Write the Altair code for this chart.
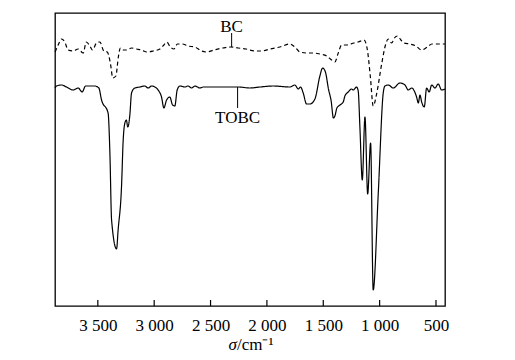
import altair as alt
import pandas as pd

# TOBC spectrum (solid): wavenumber (cm^-1) and transmittance (a.u.)
tobc_wn = [3879, 3867, 3822, 3778, 3719, 3675, 3639, 3609, 3527, 3491, 3467, 3409, 3393, 3378,
           3334, 3320, 3290, 3275, 3260, 3247, 3234, 3216, 3201, 3172, 3127, 3083, 3054, 3023,
           2994, 2965, 2935, 2914, 2890, 2861, 2837, 2817, 2796, 2772, 2728, 2699, 2668, 2639,
           2595, 2565, 2477, 2358, 2255, 2151, 2062, 1944, 1796, 1752, 1722, 1701, 1678, 1648,
           1618, 1574, 1530, 1506, 1481, 1454, 1430, 1410, 1397, 1379, 1352, 1323, 1308, 1279,
           1248, 1234, 1204, 1190, 1175, 1154, 1130, 1106, 1080, 1057, 1012, 968, 953, 924, 879,
           820, 775, 746, 716, 672, 657, 642, 627, 604, 583, 560, 538, 509, 480, 450, 420]
tobc_t = [218, 220, 221, 219, 216, 218, 214, 220, 220, 218, 206, 193, 153, 86,
          57, 76, 119, 166, 183, 186, 179, 191, 213, 218, 219, 220, 218, 220,
          219, 216, 209, 198, 206, 209, 201, 200, 216, 220, 219, 220, 218, 220,
          218, 219, 219, 219, 219, 218, 219, 220, 219, 221, 217, 219, 213, 202,
          202, 207, 230, 238, 234, 217, 205, 188, 190, 198, 201, 204, 210, 214,
          217, 216, 219, 215, 179, 126, 189, 112, 163, 16, 113, 213, 220, 221, 218,
          223, 221, 216, 218, 209, 203, 211, 204, 199, 218, 214, 221, 218, 222, 216, 217]

# BC spectrum (dashed)
bc_wn = [3879, 3852, 3822, 3793, 3764, 3719, 3675, 3630, 3602, 3571, 3547, 3512, 3482, 3447,
         3416, 3389, 3367, 3340, 3318, 3300, 3275, 3245, 3201, 3157, 3112, 3065, 3009, 2950,
         2914, 2888, 2857, 2825, 2794, 2750, 2701, 2639, 2580, 2535, 2470, 2391, 2320, 2255,
         2186, 2107, 2044, 1973, 1885, 1796, 1752, 1707, 1648, 1589, 1530, 1470, 1426, 1397,
         1367, 1337, 1293, 1228, 1190, 1139, 1110, 1082, 1057, 1027, 982, 948, 924, 893, 869,
         842, 811, 784, 731, 678, 627, 576, 536, 465, 420]
bc_t = [254, 261, 267, 264, 256, 255, 257, 253, 264, 260, 256, 263, 264, 255,
        254, 243, 228, 230, 249, 258, 256, 256, 258, 257, 256, 254, 255, 257,
        261, 264, 259, 257, 262, 262, 260, 259, 255, 254, 256, 258, 259, 258,
        257, 255, 255, 257, 259, 262, 259, 254, 253, 253, 252, 250, 246, 244,
        253, 261, 261, 263, 264, 266, 257, 229, 200, 212, 242, 261, 267, 263, 268,
        270, 266, 263, 262, 260, 256, 259, 262, 262, 262]

# Axis tick values
tick_values = [3500, 3000, 2500, 2000, 1500, 1000, 500]

# Curve labels with leader lines
label_text = ["BC", "TOBC"]
label_wn = [2313, 2260]
label_t = [274, 183]
leader_t1 = [273, 219]
leader_t2 = [259, 198]

FONT = "Liberation Serif"
W, H = 390, 293

df = pd.concat([
    pd.DataFrame({"wn": tobc_wn, "T": tobc_t, "sample": "TOBC"}),
    pd.DataFrame({"wn": bc_wn, "T": bc_t, "sample": "BC"}),
])
lab = pd.DataFrame({"wn": label_wn, "T": label_t, "label": label_text,
                    "t1": leader_t1, "t2": leader_t2})
ticks = pd.DataFrame({"wn": tick_values})

xs = alt.Scale(domain=[420, 3880], reverse=True, nice=False, zero=False)
ys = alt.Scale(domain=[0, 293], nice=False, zero=False)

xaxis = alt.Axis(values=tick_values, ticks=False, domain=False, grid=False,
                 labelExpr="replace(format(datum.value, ','), ',', ' ')",
                 labelFont=FONT, labelFontSize=17, labelColor="black", labelPadding=11,
                 title=None)

lines = alt.Chart(df).mark_line(color="black", strokeWidth=1.2, interpolate="monotone").encode(
    x=alt.X("wn:Q", scale=xs, axis=xaxis),
    y=alt.Y("T:Q", scale=ys, axis=None),
    strokeDash=alt.StrokeDash("sample:N",
                              scale=alt.Scale(domain=["TOBC", "BC"], range=[[1, 0], [4, 3]]),
                              legend=None),
    detail="sample:N",
)

tick_rules = alt.Chart(ticks).mark_rule(color="black", strokeWidth=1.2).encode(
    x=alt.X("wn:Q", scale=xs),
    y=alt.value(H),
    y2=alt.value(H - 6),
)

leaders = alt.Chart(lab).mark_rule(color="black", strokeWidth=1).encode(
    x=alt.X("wn:Q", scale=xs),
    y=alt.Y("t1:Q", scale=ys),
    y2="t2:Q",
)

texts = alt.Chart(lab).mark_text(font=FONT, fontSize=17, color="black",
                                 baseline="alphabetic", align="center").encode(
    x=alt.X("wn:Q", scale=xs),
    y=alt.Y("T:Q", scale=ys),
    text="label:N",
)

title_sigma = alt.Chart(lab.head(1)).mark_text(
    font=FONT, fontSize=17, fontStyle="italic", color="black", align="right",
    baseline="alphabetic", text="σ").encode(x=alt.value(182), y=alt.value(H + 44))
title_rest = alt.Chart(lab.head(1)).mark_text(
    font=FONT, fontSize=17, color="black", align="left",
    baseline="alphabetic", text="/cm⁻¹").encode(x=alt.value(182), y=alt.value(H + 44))

chart = alt.layer(lines, tick_rules, leaders, texts, title_sigma, title_rest).properties(
    width=W, height=H, background="white",
    padding={"left": 44, "top": 5, "right": 5, "bottom": 5},
).configure_view(
    stroke="black", strokeWidth=1.3
).configure_axis(
    labelFont=FONT, labelFontSize=17, labelColor="black"
)

chart.save("out.html", embed_options={"renderer": "svg", "actions": False})
